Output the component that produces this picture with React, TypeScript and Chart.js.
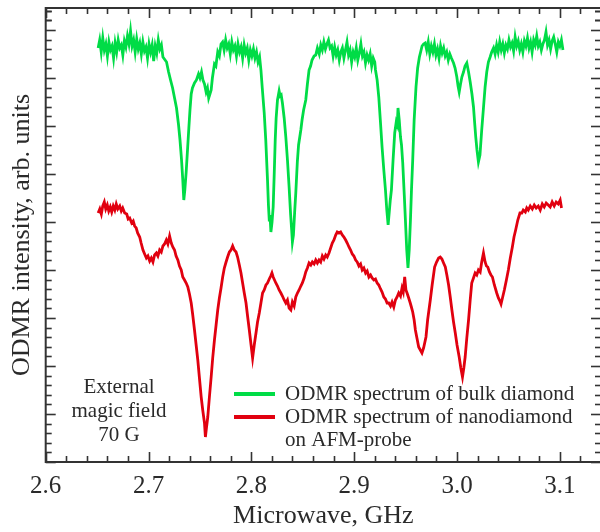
import { useEffect, useRef } from 'react';
import { Chart, registerables } from 'chart.js';

Chart.register(...registerables);

// ---------- data ----------
// frequency in MHz, intensity in arbitrary units
const greenSpectrum: [number, number][] = [
  [2651, 8.28], [2652.5, 8.44], [2654, 8.20], [2655.5, 8.48], [2657, 8.24], [2658.5, 8.36], [2660, 8.12], [2661.5, 8.40],
  [2663, 8.24], [2664.5, 8.32], [2666, 8.08], [2667.5, 8.38], [2669, 8.20], [2670.5, 8.44], [2672, 8.28], [2673.5, 8.34],
  [2675, 8.14], [2676.5, 8.42], [2678, 8.30], [2679.5, 8.52], [2681, 8.36], [2682.5, 8.62], [2684, 8.32], [2685.5, 8.44],
  [2687, 8.20], [2688.5, 8.46], [2690, 8.26], [2691.5, 8.38], [2693, 8.16], [2694.5, 8.40], [2696, 8.22], [2697.5, 8.30],
  [2699, 8.08], [2700.5, 8.36], [2702, 8.20], [2703.5, 8.34], [2705, 8.02], [2706.5, 8.32], [2708, 8.18], [2709.5, 8.44],
  [2711, 8.26], [2712.5, 8.34], [2714, 8.10],
  [2717.5, 8.00], [2719.5, 7.80], [2721.4, 7.64], [2723.4, 7.48], [2725.3, 7.28], [2727.2, 7.08], [2729.2, 6.74], [2730.6, 6.44],
  [2732.1, 6.04], [2733.3, 5.64], [2734.3, 5.24], [2735.3, 5.44], [2736.6, 5.80], [2737.9, 6.24], [2739.2, 6.68], [2740.3, 7.04],
  [2741.5, 7.36], [2742.7, 7.48], [2744.7, 7.58], [2746.6, 7.64], [2748.6, 7.76], [2750.0, 7.68], [2751.5, 7.80], [2752.9, 7.64],
  [2754.4, 7.56], [2756.0, 7.40], [2757.3, 7.48], [2758.5, 7.28], [2759.7, 7.36], [2760.9, 7.44], [2762.1, 7.68], [2764.1, 7.96],
  [2765.5, 7.92], [2767.3, 8.20], [2768.9, 8.12],
  [2770.5, 8.36], [2772, 8.40], [2773.5, 8.24], [2775, 8.44], [2776.5, 8.28], [2778, 8.36], [2779.5, 8.16], [2781, 8.40],
  [2782.5, 8.24], [2784, 8.32], [2785.5, 8.12], [2787, 8.36], [2788.5, 8.20], [2790, 8.30], [2791.5, 8.08], [2793, 8.34],
  [2794.5, 8.18], [2796, 8.28], [2797.5, 8.04], [2799, 8.24], [2800.5, 8.12], [2802, 8.26], [2803.5, 8.08], [2805, 8.20],
  [2806.5, 8.00], [2808, 8.10],
  [2809.3, 7.84], [2810.6, 7.48], [2812.5, 6.98], [2814.0, 6.44], [2815.7, 5.64], [2816.6, 5.14], [2817.4, 4.84], [2818.1, 4.94],
  [2819.0, 4.60], [2820.1, 4.80], [2821.2, 5.10], [2822.2, 5.74], [2823.2, 6.44], [2824.1, 6.88], [2825.4, 7.24], [2826.3, 7.34],
  [2827.0, 7.42], [2828.0, 7.32], [2829.0, 7.34], [2830.2, 7.18], [2831.9, 6.88], [2833.5, 6.50], [2835.1, 6.04], [2836.7, 5.50],
  [2838.2, 4.94], [2839.2, 4.64], [2839.9, 4.40], [2840.9, 4.54], [2842.1, 5.00], [2843.2, 5.38], [2844.7, 6.00], [2845.9, 6.34],
  [2848.1, 6.64], [2849.3, 6.84], [2850.8, 7.04], [2852.9, 7.24], [2854.5, 7.56], [2856.1, 7.84], [2857.6, 7.92], [2859.0, 8.04],
  [2861.0, 8.12], [2862.6, 8.14], [2864.2, 8.28],
  [2866, 8.16], [2867.5, 8.34], [2869, 8.24], [2870.5, 8.40], [2872, 8.26], [2873.5, 8.36], [2875, 8.44], [2876.5, 8.28],
  [2878, 8.32], [2879.5, 8.12], [2881, 8.30], [2882.5, 8.14], [2884, 8.24], [2885.5, 8.04], [2887, 8.20], [2888.5, 8.28],
  [2890, 8.08], [2891.5, 8.24], [2893, 8.40], [2894.5, 8.14], [2896, 8.24], [2897.5, 8.00], [2899, 8.20], [2900.5, 8.10],
  [2902, 8.28], [2903.5, 8.04], [2905, 8.18], [2906.5, 8.36], [2908, 8.12], [2909.5, 8.20], [2911, 7.98], [2912.5, 8.14],
  [2914, 8.04], [2915.5, 8.16], [2917, 7.92], [2918.5, 8.08], [2920, 8.00],
  [2920.7, 7.84], [2922.3, 7.64], [2923.9, 7.30], [2925.4, 6.84], [2927.1, 6.30], [2928.8, 5.84], [2930.4, 5.44], [2931.7, 5.04],
  [2933.0, 4.74], [2934.1, 5.00], [2935.1, 5.24], [2936.2, 5.44], [2937.8, 6.04], [2939.4, 6.58], [2940.9, 6.80], [2941.9, 6.74],
  [2942.6, 7.08], [2943.8, 6.84], [2945.0, 6.50], [2946.0, 6.34], [2947.2, 5.98], [2948.7, 5.34], [2949.8, 4.84], [2951.1, 4.24],
  [2952.3, 3.88], [2953.5, 4.24], [2954.7, 4.84], [2955.7, 5.44], [2956.9, 6.04], [2958.3, 6.84], [2960.1, 7.50], [2961.7, 7.88],
  [2963.4, 8.10], [2964.6, 8.20],
  [2966, 8.32], [2967.5, 8.36], [2969, 8.38], [2970.5, 8.24], [2972, 8.40], [2973.5, 8.16], [2975, 8.32], [2976.5, 8.20],
  [2978, 8.36], [2979.5, 8.14], [2981, 8.26], [2982.5, 8.08], [2984, 8.32], [2985.5, 8.18], [2987, 8.28], [2988.5, 8.12],
  [2990, 8.20], [2991.5, 8.04], [2993, 8.16], [2994.5, 8.08],
  [2996.6, 7.98], [2998.1, 7.88], [2999.8, 7.70], [3001.0, 7.52], [3002.1, 7.40], [3003.4, 7.56], [3004.7, 7.70], [3006.3, 7.80],
  [3007.8, 7.92], [3009.5, 7.98], [3011.2, 7.80], [3012.8, 7.60], [3014.5, 7.36], [3016.0, 7.10], [3017.3, 6.74], [3018.2, 6.50],
  [3019.4, 6.24], [3020.8, 6.00], [3022.3, 6.14], [3024.0, 6.64], [3025.7, 7.08], [3027.3, 7.50], [3028.9, 7.80], [3030.5, 8.00],
  [3032.2, 8.10], [3033.7, 8.20],
  [3035.5, 8.28], [3037, 8.16], [3038.5, 8.34], [3040, 8.20], [3041.5, 8.40], [3043, 8.24], [3044.5, 8.36], [3046, 8.18],
  [3047.5, 8.34], [3049, 8.26], [3050.5, 8.44], [3052, 8.30], [3053.5, 8.38], [3055, 8.22], [3056.5, 8.50], [3058, 8.32],
  [3059.5, 8.42], [3061, 8.24], [3062.5, 8.36], [3064, 8.20], [3065.5, 8.42], [3067, 8.32], [3068.5, 8.48], [3070, 8.28],
  [3071.5, 8.40], [3073, 8.20], [3074.5, 8.44], [3076, 8.34], [3077.5, 8.52], [3079, 8.32], [3080.5, 8.40], [3082, 8.24],
  [3083.5, 8.36], [3085, 8.44], [3086.5, 8.60], [3088, 8.34], [3089.5, 8.44], [3091, 8.26], [3092.5, 8.42], [3094, 8.50],
  [3095.5, 8.36], [3097, 8.20], [3098.5, 8.40], [3100, 8.32], [3101.5, 8.44], [3103, 8.24],
];

const redSpectrum: [number, number][] = [
  [2651.0, 4.98], [2652.6, 5.06], [2654.1, 4.96], [2655.5, 5.12], [2657.0, 5.20], [2658.4, 5.06], [2659.9, 5.14], [2661.3, 5.02],
  [2662.8, 5.10], [2664.2, 5.00], [2665.7, 5.12], [2667.2, 5.04], [2668.6, 5.16], [2670.1, 5.06], [2672.0, 5.12], [2673.5, 5.02],
  [2674.9, 5.08], [2676.8, 4.98], [2678.8, 4.96], [2680.2, 4.86], [2681.7, 4.88], [2683.6, 4.78], [2685.1, 4.82], [2686.5, 4.72],
  [2688.0, 4.68], [2689.4, 4.58], [2691.4, 4.50], [2692.8, 4.38], [2694.6, 4.24], [2696.2, 4.16], [2697.9, 4.08], [2699.4, 4.12],
  [2701.1, 4.02], [2702.7, 4.08], [2704.3, 4.00], [2705.9, 4.14], [2707.6, 4.18], [2709.1, 4.12], [2710.8, 4.24], [2712.4, 4.20],
  [2714.0, 4.32], [2715.6, 4.36], [2717.3, 4.44], [2718.8, 4.36], [2720.5, 4.52], [2722.1, 4.38], [2723.6, 4.30], [2725.3, 4.24],
  [2726.8, 4.12], [2728.5, 4.04], [2730.1, 3.92], [2731.8, 3.84], [2733.3, 3.70], [2735.0, 3.64], [2736.6, 3.58], [2738.2, 3.50],
  [2739.8, 3.36], [2741.5, 3.18], [2743.0, 2.94], [2744.7, 2.64], [2746.3, 2.34], [2747.9, 2.04], [2749.5, 1.68], [2751.2, 1.30],
  [2752.7, 1.04], [2754.4, 0.78], [2755.3, 0.50], [2756.3, 0.68], [2757.6, 0.90], [2759.2, 1.30], [2760.9, 1.70], [2762.4, 2.08],
  [2764.1, 2.44], [2765.7, 2.74], [2767.3, 3.04], [2768.9, 3.28], [2770.5, 3.48], [2772.1, 3.70], [2773.7, 3.88], [2775.4, 4.00],
  [2776.9, 4.10], [2778.6, 4.20], [2780.2, 4.24], [2781.8, 4.32], [2783.4, 4.24], [2785.1, 4.20], [2786.6, 4.10], [2788.3, 3.94],
  [2789.9, 3.78], [2791.5, 3.58], [2793.1, 3.38], [2794.8, 3.18], [2796.3, 2.92], [2798.0, 2.64], [2799.6, 2.36], [2801.2, 2.08],
  [2802.8, 2.34], [2804.5, 2.58], [2806.0, 2.80], [2807.7, 2.98], [2809.3, 3.18], [2810.9, 3.38], [2812.5, 3.44], [2814.2, 3.54],
  [2815.7, 3.58], [2817.4, 3.66], [2818.8, 3.72], [2820.0, 3.78], [2821.2, 3.70], [2822.5, 3.64], [2823.8, 3.58], [2825.4, 3.52],
  [2827.0, 3.44], [2828.7, 3.38], [2830.2, 3.32], [2831.9, 3.24], [2833.5, 3.18], [2835.1, 3.24], [2836.7, 3.08], [2838.4, 3.04],
  [2839.9, 3.20], [2841.6, 3.12], [2843.2, 3.30], [2844.8, 3.38], [2846.4, 3.44], [2848.1, 3.52], [2849.6, 3.58], [2851.3, 3.68],
  [2852.9, 3.80], [2854.5, 3.88], [2856.1, 3.98], [2857.8, 3.94], [2859.3, 4.00], [2861.0, 3.96], [2862.6, 4.04], [2864.2, 3.98],
  [2865.8, 4.04], [2867.4, 4.00], [2869.0, 4.12], [2870.6, 4.06], [2872.3, 4.14], [2873.8, 4.10], [2875.5, 4.18], [2877.1, 4.28],
  [2878.7, 4.38], [2880.3, 4.44], [2882.0, 4.54], [2883.5, 4.60], [2885.2, 4.58], [2886.8, 4.60], [2888.4, 4.54], [2890.0, 4.50],
  [2891.7, 4.44], [2893.2, 4.38], [2894.9, 4.30], [2896.5, 4.24], [2898.1, 4.16], [2899.7, 4.12], [2901.4, 4.04], [2902.9, 4.00],
  [2904.6, 3.92], [2906.2, 3.96], [2907.8, 3.84], [2909.4, 3.88], [2911.1, 3.78], [2912.6, 3.82], [2914.3, 3.70], [2915.9, 3.74],
  [2917.4, 3.68], [2919.1, 3.64], [2920.7, 3.66], [2922.3, 3.58], [2923.9, 3.54], [2925.6, 3.46], [2927.1, 3.40], [2928.8, 3.30],
  [2930.4, 3.26], [2932.0, 3.18], [2933.6, 3.18], [2935.3, 3.12], [2936.8, 3.20], [2938.5, 3.10], [2940.1, 3.24], [2941.7, 3.30],
  [2943.3, 3.38], [2945.0, 3.32], [2946.5, 3.48], [2947.7, 3.40], [2949.1, 3.70], [2950.3, 3.44], [2951.4, 3.38], [2953.0, 3.28],
  [2954.5, 3.18], [2955.6, 3.10], [2956.9, 3.00], [2958.3, 2.84], [2959.5, 2.64], [2961.0, 2.48], [2962.7, 2.30], [2964.3, 2.24],
  [2965.9, 2.18], [2967.5, 2.28], [2969.8, 2.50], [2971.4, 2.84], [2974.0, 3.24], [2975.8, 3.54], [2978.2, 3.90], [2980.1, 4.00],
  [2982.1, 4.08], [2983.7, 4.10], [2985.3, 4.06], [2986.9, 3.98], [2988.6, 3.90], [2990.1, 3.74], [2991.8, 3.54], [2993.4, 3.30],
  [2995.0, 3.04], [2996.6, 2.80], [2998.3, 2.58], [3000.0, 2.34], [3002.1, 2.10], [3003.7, 1.88], [3005.3, 1.70], [3006.6, 1.88],
  [3007.9, 2.10], [3009.5, 2.48], [3011.2, 2.84], [3012.8, 3.24], [3014.3, 3.58], [3016.0, 3.68], [3017.6, 3.78], [3019.2, 3.74],
  [3020.8, 3.84], [3022.5, 3.80], [3024.0, 4.00], [3025.7, 4.18], [3027.3, 4.00], [3028.6, 3.92], [3029.9, 3.90], [3031.5, 3.80],
  [3033.0, 3.74], [3034.4, 3.70], [3036.3, 3.54], [3038.6, 3.38], [3040.2, 3.28], [3041.7, 3.22], [3042.8, 3.16], [3044.4, 3.30],
  [3046.0, 3.44], [3048.0, 3.64], [3049.9, 3.84], [3051.8, 4.08], [3053.8, 4.30], [3055.4, 4.50], [3057.0, 4.64], [3059.1, 4.84],
  [3061.2, 4.98], [3063.0, 4.98], [3064.4, 5.04], [3066.4, 5.00], [3067.8, 5.08], [3069.3, 5.04], [3071.2, 5.12], [3073.2, 5.06],
  [3075.1, 5.14], [3077.0, 5.08], [3079.0, 5.12], [3080.9, 5.04], [3082.9, 5.16], [3084.8, 5.10], [3086.7, 5.18], [3088.7, 5.14],
  [3090.6, 5.10], [3092.5, 5.20], [3094.5, 5.12], [3096.4, 5.20], [3098.4, 5.16], [3100.3, 5.24], [3101.6, 5.08],
];

const xTickLabels = ['2.6', '2.7', '2.8', '2.9', '3.0', '3.1'];
const xMajorStep = 0.1;
const xMinorPerMajor = 5;
const yMajorTicks = [0, 0.96, 1.92, 2.88, 3.84, 4.8, 5.76, 6.72, 7.68, 8.64];
const yMinorPerMajor = 5;

const seriesLabels = [
  ['ODMR spectrum of bulk diamond'],
  ['ODMR spectrum of nanodiamond', 'on AFM-probe'],
];
const noteLines = ['External', 'magic field', '70 G'];

const X_MIN = 2.6;
const X_MAX = 3.14;
const Y_MIN = 0;
const Y_MAX = 9.08;

const GREEN = '#00dc46';
const RED = '#e1000f';
const INK = '#2a2a2a';
const FONT = "'Liberation Serif', 'Times New Roman', Times, serif";

export default function App() {
  const ref = useRef<HTMLCanvasElement | null>(null);

  useEffect(() => {
    const canvas = ref.current;
    if (!canvas) return;
    Chart.defaults.font.family = FONT;

    const xMinorStep = xMajorStep / xMinorPerMajor;
    const xTicks: number[] = [];
    for (let i = 0; X_MIN + i * xMinorStep <= X_MAX + 1e-9; i++) {
      xTicks.push(+(X_MIN + i * xMinorStep).toFixed(4));
    }

    const decor = {
      id: 'decor',
      afterDraw(chart: any) {
        const { ctx, chartArea: a, scales } = chart;
        const xs = scales.x;
        const ys = scales.y;
        ctx.save();
        ctx.strokeStyle = '#333';
        ctx.lineWidth = 2;
        ctx.strokeRect(a.left, a.top, a.right - a.left, a.bottom - a.top);
        ctx.lineWidth = 1.6;
        const seg = (x1: number, y1: number, x2: number, y2: number) => {
          ctx.beginPath();
          ctx.moveTo(x1, y1);
          ctx.lineTo(x2, y2);
          ctx.stroke();
        };
        xs.ticks.forEach((t: any, i: number) => {
          const px = Math.round(xs.getPixelForValue(t.value)) + 0.5;
          const len = i % xMinorPerMajor === 0 ? 10 : 6;
          seg(px, a.bottom, px, a.bottom - len);
          seg(px, a.top, px, a.top + len);
        });
        const yStep = yMajorTicks[1] - yMajorTicks[0];
        const yMinor = yStep / yMinorPerMajor;
        const lastMajor = yMajorTicks[yMajorTicks.length - 1];
        const yVals: { v: number; major: boolean }[] = [];
        yMajorTicks.forEach((m) => {
          yVals.push({ v: m, major: true });
          for (let k = 1; k < yMinorPerMajor; k++) yVals.push({ v: m + k * yMinor, major: false });
        });
        for (let k = 1; lastMajor + k * yMinor < Y_MAX; k++) yVals.push({ v: lastMajor + k * yMinor, major: false });
        yVals.forEach(({ v, major }) => {
          if (v > Y_MAX || v < Y_MIN) return;
          const py = Math.round(ys.getPixelForValue(v)) + 0.5;
          const len = major ? 10 : 6;
          seg(a.left, py, a.left + len, py);
          seg(a.right, py, a.right - len, py);
        });

        // legend
        ctx.font = `21px ${FONT}`;
        ctx.fillStyle = INK;
        ctx.textBaseline = 'middle';
        ctx.textAlign = 'left';
        let row = 0;
        const rowY = (r: number) => 394 + r * 23;
        chart.data.datasets.forEach((ds: any, i: number) => {
          ctx.strokeStyle = ds.borderColor;
          ctx.lineWidth = 4;
          const y = rowY(row);
          seg(234, y, 275, y);
          seriesLabels[i].forEach((line) => {
            ctx.fillText(line, 285, rowY(row));
            row++;
          });
        });

        // note
        ctx.textAlign = 'center';
        noteLines.forEach((line, i) => {
          ctx.fillText(line, 119, 387 + i * 24);
        });
        ctx.restore();
      },
    };

    const chart = new Chart(canvas, {
      type: 'line',
      data: {
        datasets: [
          {
            label: seriesLabels[0].join(' '),
            data: greenSpectrum.map(([f, v]) => ({ x: f / 1000, y: v })),
            borderColor: GREEN,
            borderWidth: 2.8,
            pointRadius: 0,
            tension: 0,
            fill: false,
          },
          {
            label: seriesLabels[1].join(' '),
            data: redSpectrum.map(([f, v]) => ({ x: f / 1000, y: v })),
            borderColor: RED,
            borderWidth: 2.8,
            pointRadius: 0,
            tension: 0,
            fill: false,
          },
        ],
      },
      options: {
        responsive: false,
        animation: false,
        layout: { padding: { left: 0, top: 8, right: 7, bottom: 0 } },
        plugins: { legend: { display: false }, tooltip: { enabled: false } },
        scales: {
          x: {
            type: 'linear',
            min: X_MIN,
            max: X_MAX,
            afterBuildTicks: (s: any) => {
              s.ticks = xTicks.map((v) => ({ value: v }));
            },
            afterFit: (s: any) => {
              s.height = 70;
            },
            ticks: {
              autoSkip: false,
              maxRotation: 0,
              minRotation: 0,
              padding: 9,
              color: INK,
              font: { size: 25, family: FONT },
              callback: (_v: any, i: number) =>
                i % xMinorPerMajor === 0 && xTickLabels[i / xMinorPerMajor] ? xTickLabels[i / xMinorPerMajor] : '',
            },
            grid: { display: false, drawTicks: false },
            border: { display: false },
            title: {
              display: true,
              text: 'Microwave, GHz',
              color: INK,
              font: { size: 26, family: FONT },
              padding: { top: 0, bottom: 0 },
            },
          },
          y: {
            type: 'linear',
            min: Y_MIN,
            max: Y_MAX,
            afterFit: (s: any) => {
              s.width = 45.7;
            },
            ticks: { display: false },
            grid: { display: false, drawTicks: false },
            border: { display: false },
            title: {
              display: true,
              text: 'ODMR intensity, arb. units',
              color: INK,
              font: { size: 26, family: FONT },
              padding: { top: 7, bottom: 0 },
            },
          },
        },
      },
      plugins: [decor],
    } as any);

    return () => chart.destroy();
  }, []);

  return (
    <div
      style={{
        position: 'absolute',
        left: 0,
        top: 0,
        width: 600,
        height: 532,
        overflow: 'hidden',
        background: '#fff',
      }}
    >
      <canvas ref={ref} width={610} height={532} style={{ display: 'block', width: 610, height: 532 }} />
    </div>
  );
}
